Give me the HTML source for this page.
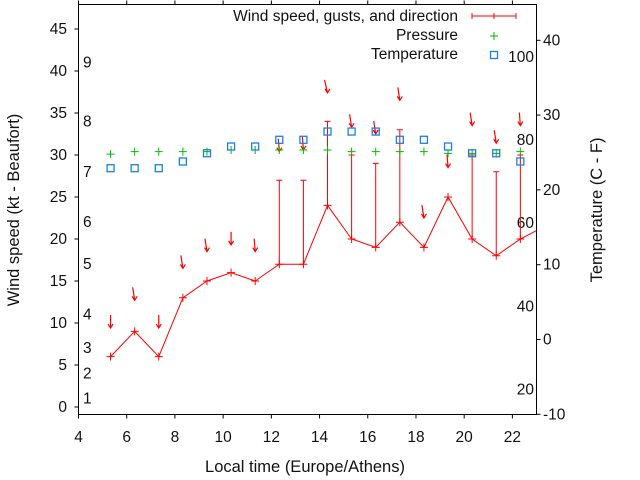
<!DOCTYPE html>
<html><head><meta charset="utf-8"><style>
body{margin:0;background:#fff}
svg{display:block;font-family:"Liberation Sans",sans-serif}
</style></head><body>
<svg id="chart" width="640" height="480"></svg>
<script>
const hours=[5.33,6.33,7.33,8.33,9.33,10.33,11.33,12.33,13.33,14.33,15.33,16.33,17.33,18.33,19.33,20.33,21.33,22.33];
const windSpeed=[6,9,6,13,15,16,15,17,17,24,20,19,22,19,25,20,18,20];
const gusts=[null,null,null,null,null,null,null,27,27,34,30,29,33,null,null,30,28,30];
const dirArrowY=[9.4,12.7,9.4,16.5,18.5,19.3,18.5,30.4,30.6,37.4,33.3,32.5,36.5,22.5,28.5,33.5,31.4,33.5];
const dirArrowDx=[0,-2,0,-2,-2,0,-1,-1,-1,-3,-2,-2,-2,-2,-1,-2,-2,-1];
const pressure=[30.1,30.4,30.4,30.4,30.4,30.6,30.6,30.6,30.6,30.6,30.4,30.4,30.4,30.4,30.2,30.2,30.2,30.4];
const tempC=[22.9,22.9,22.9,23.8,24.9,25.8,25.8,26.7,26.7,27.8,27.8,27.8,26.7,26.7,25.8,24.9,24.9,23.8];
const xTicks=[4,6,8,10,12,14,16,18,20,22];
const yTicks=[0,5,10,15,20,25,30,35,40,45];
const y2Ticks=[-10,0,10,20,30,40];
const beaufortKt=[1,4,7,11,17,22,28,34,41];
const beaufortLabels=["1","2","3","4","5","6","7","8","9"];
const fahrenheit=[20,40,60,80,100];

const L=78.5,R=536.5,T=4.5,B=414.5;
const X=h=>L+(h-4)*(R-L)/19;
const Y=k=>407-k*8.4;
const Y2=c=>339.5-c*7.48;
const svg=document.getElementById('chart');
const NS='http://www.w3.org/2000/svg';
function mk(tag,attrs,parent){const e=document.createElementNS(NS,tag);for(const k in attrs)e.setAttribute(k,attrs[k]);(parent||svg).appendChild(e);return e;}
function txt(x,y,s,anchor,name,extra){const t=mk('text',Object.assign({x:x,y:y,'font-size':15.5,fill:'#111','text-anchor':anchor||'start'},extra||{}));t.textContent=s;


return t;}

const frame=mk('rect',{x:L,y:T,width:R-L,height:B-T,fill:'none',stroke:'#000','stroke-width':1});


xTicks.forEach(h=>{const x=X(h);
 mk('line',{x1:x,y1:B,x2:x,y2:B+4,stroke:'#000'});mk('line',{x1:x,y1:T,x2:x,y2:T-4,stroke:'#000'});
 txt(x,442,String(h),'middle','x-tick-label');});
yTicks.forEach(k=>{const y=Y(k);mk('line',{x1:L,y1:y,x2:L-4,y2:y,stroke:'#000'});txt(67,y+5,String(k),'end','y-tick-label');});
y2Ticks.forEach(c=>{const y=Y2(c);mk('line',{x1:R,y1:y,x2:R+4,y2:y,stroke:'#000'});txt(543,y+5,String(c),'start','y2-tick-label');});
beaufortKt.forEach((k,i)=>txt(83,Y(k)+5,beaufortLabels[i],'start','beaufort-label'));
fahrenheit.forEach(f=>txt(534,Y2((f-32)*5/9)+5,String(f),'end','fahrenheit-label'));

txt(305,472,'Local time (Europe/Athens)','middle','x-axis-title',{'font-size':16.5});
txt(0,0,'Wind speed (kt - Beaufort)','middle','y-axis-title',{transform:'translate(19,210) rotate(-90)','font-size':16.5});
txt(0,0,'Temperature (C - F)','middle','y2-axis-title',{transform:'translate(602,210) rotate(-90)','font-size':16.5});

let d='';hours.forEach((h,i)=>{d+=(i?'L':'M')+X(h)+','+Y(windSpeed[i]);});
d+='L'+R+','+Y(21);
const wl=mk('path',{d:d,fill:'none',stroke:'#f00','stroke-width':1});


hours.forEach((h,i)=>{const x=X(h),y=Y(windSpeed[i]);
 mk('path',{d:`M${x-4},${y}H${x+4}M${x},${y-4}V${y+4}`,stroke:'#f00'});
 if(gusts[i]!=null){const g=mk('path',{d:`M${x},${y}V${Y(gusts[i])}M${x-3},${Y(gusts[i])}H${x+3}`,stroke:'#f00'});
  
  }
 const ay=Y(dirArrowY[i]),dx=dirArrowDx[i];
 const a=mk('path',{d:`M${x+dx},${ay-13}L${x},${ay}M${x-2.5},${ay-4}L${x},${ay}L${x+2.5},${ay-4}`,stroke:'#f00',fill:'none','stroke-width':1.2});
 
 
 const px=x,py=Y(pressure[i]);
 const p=mk('path',{d:`M${px-4},${py}H${px+4}M${px},${py-4}V${py+4}`,stroke:'#0b0'});
 
 
 const ty=Y2(tempC[i]);
 const s=mk('rect',{x:x-3.5,y:ty-3.5,width:7,height:7,fill:'none',stroke:'#1a80e6','stroke-width':1.3});
 
 
});

txt(458,21,'Wind speed, gusts, and direction','end','legend-wind');
mk('path',{d:'M472,16H516M472,13V19M516,13V19M494,13V19',stroke:'#f00'});
txt(458,40,'Pressure','end','legend-pressure');
mk('path',{d:'M490,36H498M494,32V40',stroke:'#0b0'});
txt(458,59,'Temperature','end','legend-temperature');
mk('rect',{x:490.5,y:51.5,width:7,height:7,fill:'none',stroke:'#1a80e6','stroke-width':1.3});
</script>
</body></html>
